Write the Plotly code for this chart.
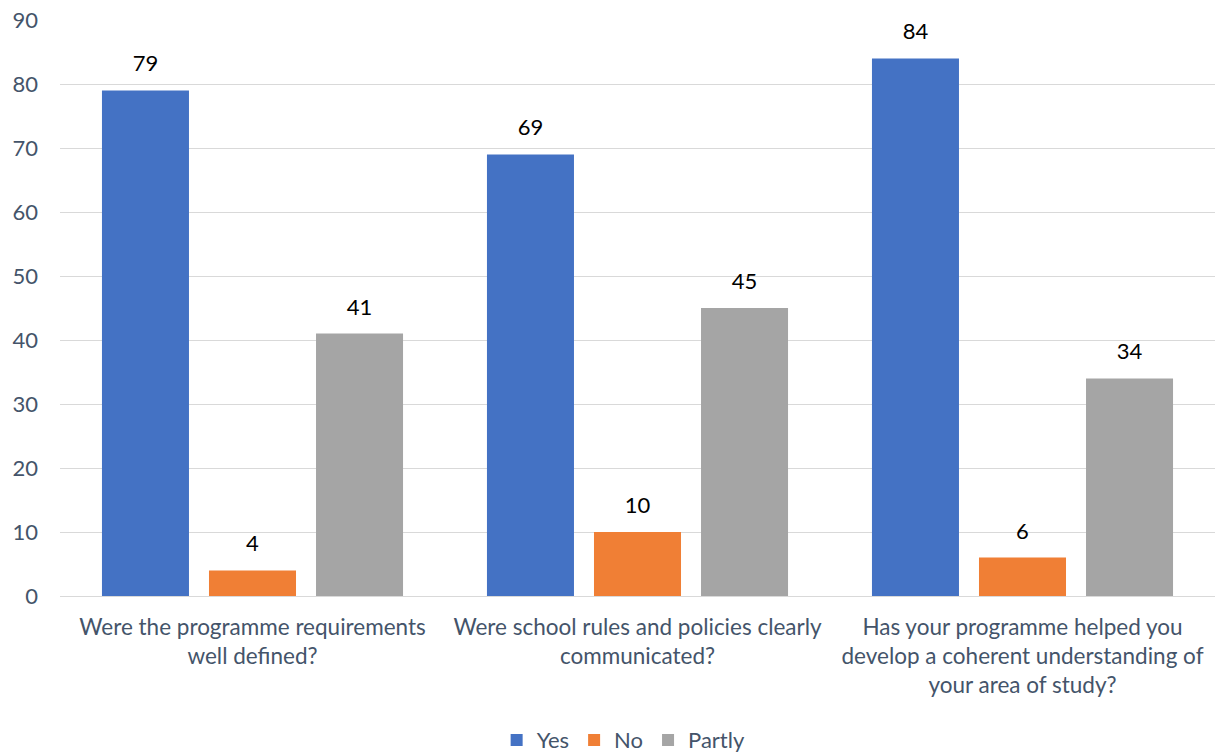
import plotly.graph_objects as go

categories = [
    "Were the programme requirements<br>well defined?",
    "Were school rules and policies clearly<br>communicated?",
    "Has your programme helped you<br>develop a coherent understanding of<br>your area of study?",
]
yes_vals = [79, 69, 84]
no_vals = [4, 10, 6]
partly_vals = [41, 45, 34]
y_ticks = [0, 10, 20, 30, 40, 50, 60, 70, 80, 90]

font_family = "Lato, Open Sans, sans-serif"
axis_color = "#44546A"
series = [
    ("Yes", yes_vals, "#4472C4"),
    ("No", no_vals, "#F07F35"),
    ("Partly", partly_vals, "#A5A5A5"),
]

fig = go.Figure()
for name, vals, color in series:
    fig.add_trace(go.Bar(
        name=name, x=categories, y=vals,
        marker=dict(color=color, line=dict(width=0)),
    ))
# data labels, grouped to align with the bars
for name, vals, color in series:
    fig.add_trace(go.Scatter(
        x=categories, y=vals, mode="markers+text",
        text=[str(v) for v in vals], textposition="top center",
        textfont=dict(color="#000000", size=22, family=font_family),
        marker=dict(size=20, opacity=0), showlegend=False, hoverinfo="skip",
        cliponaxis=False,
    ))

fig.update_layout(
    width=1215, height=760,
    margin=dict(l=52, r=8, t=12, b=171),
    paper_bgcolor="white", plot_bgcolor="white",
    barmode="group", bargap=0.166, bargroupgap=0.187,
    scattermode="group", scattergap=0.166,
    font=dict(family=font_family, color=axis_color, size=22),
    legend=dict(orientation="h", x=0.488, xanchor="center", y=-0.248, yanchor="middle",
                font=dict(size=22, color=axis_color), traceorder="normal",
                itemwidth=30),
    showlegend=True,
)
fig.update_yaxes(range=[0, 90], tickvals=y_ticks, showgrid=True, gridcolor="#D9D9D9",
                 gridwidth=1, zeroline=True, zerolinecolor="#D9D9D9", zerolinewidth=1,
                 tickfont=dict(size=22, color=axis_color), ticks="",
                 ticklabelstandoff=21, automargin=False, ticklabeloverflow="allow")
fig.update_xaxes(tickfont=dict(size=22.5, color=axis_color), showline=False, ticks="",
                 ticklabelstandoff=15, automargin=False)

fig.write_html("out.html")
